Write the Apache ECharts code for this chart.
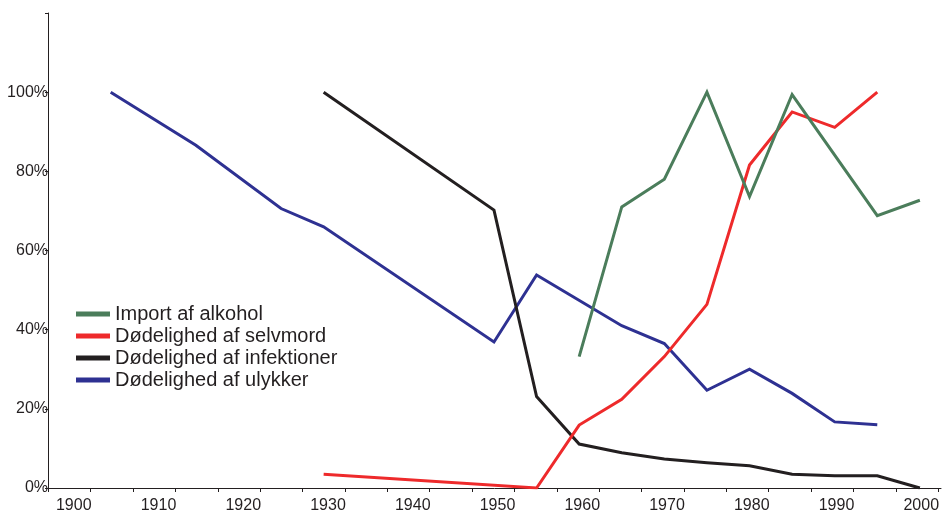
<!DOCTYPE html>
<html>
<head>
<meta charset="utf-8">
<script src="https://cdn.jsdelivr.net/npm/echarts@6/dist/echarts.min.js"></script>
<style>
html,body{margin:0;padding:0;background:#fff;}
#chart{width:942px;height:514px;}
</style>
</head>
<body>
<div id="chart"></div>
<script>
// ---- data ----
const seriesNames = ['Import af alkohol', 'Dødelighed af selvmord', 'Dødelighed af infektioner', 'Dødelighed af ulykker'];

const alkoholYears = [1960, 1965, 1970, 1975, 1980, 1985, 1995, 2000];
const alkohol      = [33.2, 71.0, 78.0, 100, 73.6, 99.4, 68.8, 72.7];

const selvmordYears = [1930, 1955, 1960, 1965, 1970, 1975, 1980, 1985, 1990, 1995];
const selvmord      = [3.5, 0, 15.9, 22.4, 33.2, 46.4, 81.6, 95.0, 91.1, 100];

const infektionerYears = [1930, 1950, 1955, 1960, 1965, 1970, 1975, 1980, 1985, 1990, 1995, 2000];
const infektioner      = [100, 70.2, 23.1, 11.1, 8.9, 7.3, 6.4, 5.6, 3.5, 3.1, 3.1, 0];

const ulykkerYears = [1905, 1915, 1925, 1930, 1950, 1955, 1965, 1970, 1975, 1980, 1985, 1990, 1995];
const ulykker      = [100, 86.6, 70.6, 66.0, 36.9, 53.8, 41.0, 36.5, 24.7, 30.0, 23.9, 16.7, 16.0];

const xTickLabels = [1900, 1910, 1920, 1930, 1940, 1950, 1960, 1970, 1980, 1990, 2000];
const yTickValues = [0, 20, 40, 60, 80, 100];

// ---- styling ----
const colors = {
  'Import af alkohol': '#4b7d5b',
  'Dødelighed af selvmord': '#ee2a2b',
  'Dødelighed af infektioner': '#231f20',
  'Dødelighed af ulykker': '#2e3192'
};
const font = 'Liberation Sans, Arial, Helvetica, sans-serif';
const axisColor = '#231f20';

function pairs(xs, ys) { return xs.map((x, i) => [x, ys[i]]); }

const minorTicks = [];
for (let t = 1897; t <= 2002; t += 5) minorTicks.push(t);

const chart = echarts.init(document.getElementById('chart'), null, {renderer: 'canvas'});

const lineSeries = (name, xs, ys) => ({
  name: name,
  type: 'line',
  xAxisIndex: 0,
  data: pairs(xs, ys),
  symbol: 'none',
  showSymbol: false,
  lineStyle: {width: 3, color: colors[name], join: 'miter'},
  itemStyle: {color: colors[name]},
  emphasis: {disabled: true},
  animation: false
});

chart.setOption({
  animation: false,
  backgroundColor: '#fff',
  grid: {left: 48, right: 1, top: 13, bottom: 26, containLabel: false, outerBoundsMode: 'none'},
  legend: {
    data: seriesNames,
    orient: 'vertical',
    left: 76,
    top: 304,
    padding: 0,
    itemWidth: 34,
    itemHeight: 5,
    itemGap: 2,
    icon: 'rect',
    textStyle: {fontFamily: font, fontSize: 20, color: '#231f20', lineHeight: 20}
  },
  xAxis: [
    {
      // data axis
      type: 'value',
      min: 1897.64,
      max: 2002.48,
      show: false,
      splitLine: {show: false}
    },
    {
      // printed axis (ticks + labels)
      type: 'value',
      position: 'bottom',
      min: 1896.96,
      max: 2002.33,
      axisLine: {show: true, onZero: false, lineStyle: {color: axisColor, width: 1}},
      axisTick: {show: true, length: 4, customValues: minorTicks, lineStyle: {color: axisColor, width: 1}},
      axisLabel: {
        show: true,
        customValues: xTickLabels,
        margin: 10,
        fontFamily: font,
        fontSize: 16,
        color: '#231f20',
        formatter: v => String(v)
      },
      splitLine: {show: false}
    }
  ],
  yAxis: {
    type: 'value',
    min: 0,
    max: 120,
    interval: 20,
    axisLine: {show: true, lineStyle: {color: axisColor, width: 1}},
    axisTick: {show: true, length: 3, lineStyle: {color: axisColor, width: 1}},
    axisLabel: {
      margin: 0,
      fontFamily: font,
      fontSize: 16,
      color: '#231f20',
      formatter: v => (yTickValues.indexOf(v) >= 0 ? v + '%' : '')
    },
    splitLine: {show: false}
  },
  series: [
    lineSeries('Dødelighed af ulykker', ulykkerYears, ulykker),
    lineSeries('Dødelighed af infektioner', infektionerYears, infektioner),
    lineSeries('Dødelighed af selvmord', selvmordYears, selvmord),
    lineSeries('Import af alkohol', alkoholYears, alkohol)
  ]
});
</script>
</body>
</html>
